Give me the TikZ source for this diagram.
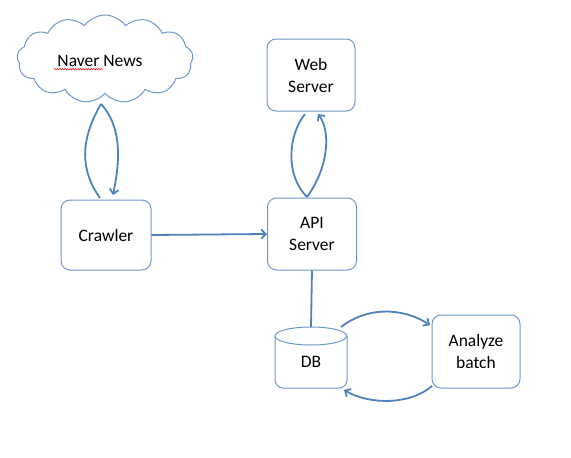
\documentclass[tikz,border=0pt]{standalone}
\usepackage{fontspec}
\setmainfont{Carlito}
\usetikzlibrary{shapes.symbols,arrows.meta,decorations.pathmorphing}
\definecolor{lnblue}{RGB}{79,129,189}
\definecolor{bxblue}{RGB}{110,152,204}
\begin{document}
\begin{tikzpicture}[x=1pt,y=-1pt,
  box/.style={draw=bxblue,line width=1pt,rounded corners=9pt,align=center,
    font=\fontsize{17.5}{22}\selectfont},
  conn/.style={draw=lnblue,line width=1.8pt},
  tip/.style={-{Straight Barb[length=4.5pt,width=9pt]}},
  lbl/.style={font=\fontsize{17.5}{22}\selectfont,align=center}]
\useasboundingbox (0,0) rectangle (571,458);
% nodes
\node[cloud,draw=bxblue,line width=1pt,cloud puffs=13,cloud puff arc=110,aspect=2.1,
  minimum width=176pt,minimum height=88pt,inner sep=0pt] (cloud) at (105,59) {};
\node[lbl] (naver) at (100,61) {Naver News};
\draw[red,line width=0.5pt,decorate,decoration={snake,amplitude=0.7pt,segment length=2.6pt}]
  ([yshift=1pt]naver.south west) -- ([xshift=-43pt,yshift=1pt]naver.south east);
\node[box,minimum width=90pt,minimum height=70pt] (crawler) at (106,235) {Crawler};
\node[box,minimum width=89pt,minimum height=72pt] (api) at (312,234) {API\\Server};
\node[box,minimum width=88pt,minimum height=72pt] (web) at (311,75) {Web\\Server};
\node[box,minimum width=88pt,minimum height=73pt] (batch) at (476,351.5) {Analyze\\batch};
% DB cylinder
\node[lbl,minimum width=72pt,minimum height=61pt] (db) at (311,357.5) {};
\node[lbl] (dbtxt) at (311,362) {DB};
\draw[draw=bxblue,line width=1pt,rounded corners=8pt] (275,336) -- (275,388) -- (347,388) -- (347,336);
\draw[draw=bxblue,line width=1pt] (311,336) ellipse [x radius=36pt,y radius=9pt];
% connector end points
\coordinate (cloudbot) at (101,104);
\coordinate (crawlA) at (100,198);
\coordinate (crawlB) at (113,195);
\coordinate (apitop) at (307,197);
\coordinate (webA) at (305,114);
\coordinate (webB) at (318,114);
\coordinate (dbtop) at (311,327);
\coordinate (dbright) at (341,327);
\coordinate (dbbot) at (344,390);
\coordinate (batchin) at (430,325);
\coordinate (batchout) at (432,386);
% connectors
\draw[conn] (cloudbot) .. controls (80,140) and (80,170) .. (crawlA);
\draw[conn,tip] (cloudbot) .. controls (125,130) and (118,170) .. (crawlB);
\draw[conn,tip] (crawler.east) -- (api.west);
\draw[conn] (apitop) .. controls (285,175) and (288,135) .. (webA);
\draw[conn,tip] (apitop) .. controls (330,165) and (330,130) .. (webB);
\draw[conn] (api.south) -- (dbtop);
\draw[conn,tip] (dbright) .. controls (365,308) and (400,306) .. (batchin);
\draw[conn,tip] (batchout) .. controls (410,405) and (370,405) .. (dbbot);
\end{tikzpicture}
\end{document}
